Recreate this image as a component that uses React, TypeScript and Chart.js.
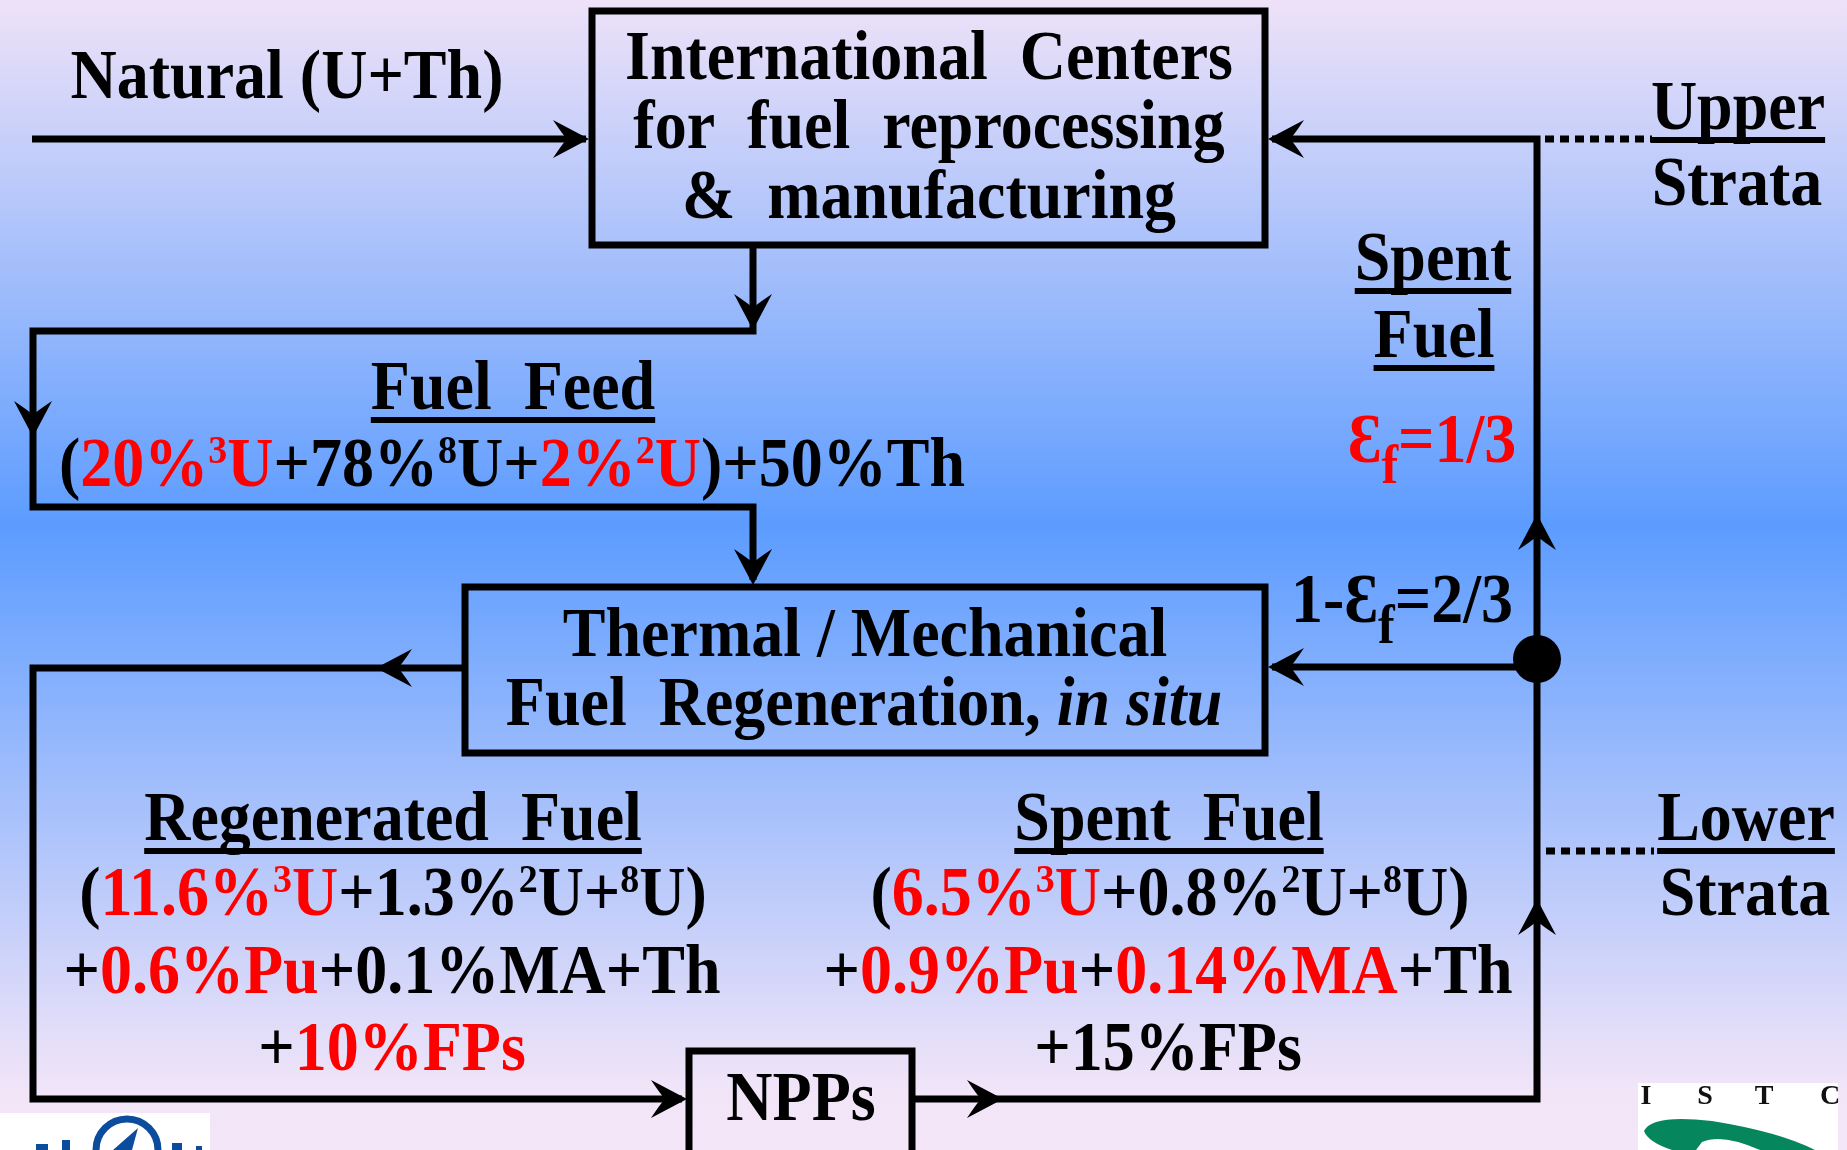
import React, { useEffect, useRef } from "react";
import { Chart, registerables } from "chart.js";

Chart.register(...registerables);

const W = 1847;
const H = 1150;

// ---------- diagram data (in diagram units: x 0..1847, y 0..1150 top-down) ----------
const boxes = [
  { id: "centers", x0: 592, y0: 11, x1: 1265, y1: 245 },
  { id: "regeneration", x0: 465, y0: 587, x1: 1265, y1: 753 },
  { id: "npps", x0: 689, y0: 1051, x1: 912, y1: 1175 },
];

const flowPaths = [
  [[32, 139], [586, 139]],
  [[753, 245], [753, 331], [33, 331], [33, 507], [753, 507], [753, 580]],
  [[465, 668], [33, 668], [33, 1099], [682, 1099]],
  [[912, 1099], [1537, 1099], [1537, 139], [1272, 139]],
  [[1537, 667], [1272, 667]],
];

const arrowHeads: [number, number, string][] = [
  [589, 139, "r"],
  [753, 330, "d"],
  [33, 437, "d"],
  [753, 585, "d"],
  [376, 668, "l"],
  [687, 1099, "r"],
  [1003, 1099, "r"],
  [1537, 899, "u"],
  [1537, 514, "u"],
  [1268, 667, "l"],
  [1268, 139, "l"],
];

const junctionDots = [[1537, 659]];

const strataLeaders = [
  [[1545, 139], [1652, 139]],
  [[1546, 851], [1654, 851]],
];

// text segments: [text, colour k|r, kind n|sup|sub|i]
type Seg = [string, string?, string?];
type Label = { x: number; y: number; u?: boolean; segs: Seg[] };

const naturalLabels: Label[] = [{ x: 287, y: 98, segs: [["Natural (U+Th)"]] }];

const centerTitle: Label[] = [
  { x: 929, y: 79, segs: [["International  Centers"]] },
  { x: 929, y: 148, segs: [["for  fuel  reprocessing"]] },
  { x: 929, y: 218, segs: [["&  manufacturing"]] },
];

const regenTitle: Label[] = [
  { x: 865, y: 656, segs: [["Thermal / Mechanical"]] },
  { x: 864, y: 725, segs: [["Fuel  Regeneration, "], ["in situ", "k", "i"]] },
];

const nppTitle: Label[] = [{ x: 801, y: 1120, segs: [["NPPs"]] }];

const feedLabels: Label[] = [
  { x: 513, y: 409, u: true, segs: [["Fuel  Feed"]] },
  {
    x: 512, y: 486,
    segs: [["("], ["20%", "r"], ["3", "r", "sup"], ["U", "r"], ["+78%"], ["8", "k", "sup"], ["U+"],
      ["2%", "r"], ["2", "r", "sup"], ["U", "r"], [")+50%Th"]],
  },
];

const upperSpentLabels: Label[] = [
  { x: 1433, y: 280, u: true, segs: [["Spent"]] },
  { x: 1434, y: 357, u: true, segs: [["Fuel"]] },
  { x: 1432, y: 462, segs: [["Ɛ", "r"], ["f", "r", "sub"], ["=1/3", "r"]] },
  { x: 1402, y: 622, segs: [["1-Ɛ"], ["f", "k", "sub"], ["=2/3"]] },
];

const strataLabels: Label[] = [
  { x: 1738, y: 129, u: true, segs: [["Upper"]] },
  { x: 1737, y: 205, segs: [["Strata"]] },
  { x: 1746, y: 840, u: true, segs: [["Lower"]] },
  { x: 1745, y: 915, segs: [["Strata"]] },
];

const regeneratedFuel: Label[] = [
  { x: 393, y: 840, u: true, segs: [["Regenerated  Fuel"]] },
  {
    x: 393, y: 915,
    segs: [["("], ["11.6%", "r"], ["3", "r", "sup"], ["U", "r"], ["+1.3%"], ["2", "k", "sup"], ["U+"],
      ["8", "k", "sup"], ["U)"]],
  },
  { x: 392, y: 993, segs: [["+"], ["0.6%Pu", "r"], ["+0.1%MA+Th"]] },
  { x: 392, y: 1070, segs: [["+"], ["10%FPs", "r"]] },
];

const spentFuel: Label[] = [
  { x: 1169, y: 840, u: true, segs: [["Spent  Fuel"]] },
  {
    x: 1170, y: 915,
    segs: [["("], ["6.5%", "r"], ["3", "r", "sup"], ["U", "r"], ["+0.8%"], ["2", "k", "sup"], ["U+"],
      ["8", "k", "sup"], ["U)"]],
  },
  { x: 1168, y: 993, segs: [["+"], ["0.9%Pu", "r"], ["+"], ["0.14%MA", "r"], ["+Th"]] },
  { x: 1168, y: 1070, segs: [["+15%FPs"]] },
];

const allLabels = [
  ...naturalLabels, ...centerTitle, ...regenTitle, ...nppTitle, ...feedLabels,
  ...upperSpentLabels, ...strataLabels, ...regeneratedFuel, ...spentFuel,
];

const istcLetters = ["I", "S", "T", "C"];

// ---------- styles ----------
const FAMILY = '"Liberation Serif","Times New Roman",Times,serif';
const LINE_W = 7;
const RED = "#ff0000";
const TEXT_STRETCH_Y = 1.08;

function fontFor(kind?: string) {
  if (kind === "sup") return `bold 38px ${FAMILY}`;
  if (kind === "sub") return `bold 50px ${FAMILY}`;
  if (kind === "i") return `italic bold 64px ${FAMILY}`;
  return `bold 64px ${FAMILY}`;
}
function shiftFor(kind?: string) {
  if (kind === "sup") return -21;
  if (kind === "sub") return 19;
  return 0;
}

const diagramPlugin = {
  id: "diagram",
  beforeDraw(chart: any) {
    const { ctx, width, height } = chart;
    const g = ctx.createLinearGradient(0, 0, 0, height);
    g.addColorStop(0, "#eee2f8");
    g.addColorStop(0.457, "#5c9cff");
    g.addColorStop(0.95, "#f2e5f8");
    g.addColorStop(1, "#f4e6f8");
    ctx.save();
    ctx.fillStyle = g;
    ctx.fillRect(0, 0, width, height);
    ctx.restore();
  },
  afterDatasetsDraw(chart: any) {
    const { ctx } = chart;
    const sx = (v: number) => chart.scales.x.getPixelForValue(v);
    const sy = (v: number) => chart.scales.y.getPixelForValue(v);
    ctx.save();

    // boxes
    ctx.strokeStyle = "#000";
    ctx.lineWidth = LINE_W;
    ctx.lineJoin = "miter";
    for (const b of boxes) {
      ctx.strokeRect(sx(b.x0), sy(b.y0), sx(b.x1) - sx(b.x0), sy(b.y1) - sy(b.y0));
    }

    // arrowheads
    ctx.fillStyle = "#000";
    const L = 36, HW = 19, N = 22;
    for (const [x, y, d] of arrowHeads) {
      const dx = d === "r" ? 1 : d === "l" ? -1 : 0;
      const dy = d === "d" ? 1 : d === "u" ? -1 : 0;
      const px = -dy, py = dx;
      const tx = sx(x), ty = sy(y);
      ctx.beginPath();
      ctx.moveTo(tx, ty);
      ctx.lineTo(tx - L * dx + HW * px, ty - L * dy + HW * py);
      ctx.quadraticCurveTo(tx - (N + 4) * dx + 4 * px, ty - (N + 4) * dy + 4 * py, tx - N * dx, ty - N * dy);
      ctx.quadraticCurveTo(tx - (N + 4) * dx - 4 * px, ty - (N + 4) * dy - 4 * py, tx - L * dx - HW * px, ty - L * dy - HW * py);
      ctx.closePath();
      ctx.fill();
    }

    // texts
    ctx.textBaseline = "alphabetic";
    ctx.textAlign = "left";
    for (const lab of allLabels) {
      let total = 0;
      const widths: number[] = [];
      for (const s of lab.segs) {
        ctx.font = fontFor(s[2]);
        const w = ctx.measureText(s[0]).width;
        widths.push(w);
        total += w;
      }
      const cx = sx(lab.x), by = sy(lab.y);
      let x = cx - total / 2;
      ctx.save();
      ctx.translate(0, by);
      ctx.scale(1, TEXT_STRETCH_Y);
      lab.segs.forEach((s, i) => {
        ctx.font = fontFor(s[2]);
        ctx.fillStyle = s[1] === "r" ? RED : "#000";
        ctx.fillText(s[0], x, shiftFor(s[2]));
        x += widths[i];
      });
      ctx.restore();
      if (lab.u) {
        ctx.fillStyle = "#000";
        ctx.fillRect(cx - total / 2, by + 8, total, 6);
      }
    }

    // logos (bottom corners)
    ctx.fillStyle = "#ffffff";
    ctx.fillRect(sx(0), sy(1113), sx(210) - sx(0), sy(1150) - sy(1113));
    ctx.strokeStyle = "#0b4c9c";
    ctx.lineWidth = 7;
    ctx.beginPath();
    ctx.arc(sx(127), sy(1150), 31, Math.PI, 2 * Math.PI);
    ctx.stroke();
    ctx.fillStyle = "#0b4c9c";
    ctx.beginPath();
    ctx.moveTo(sx(138), sy(1128));
    ctx.lineTo(sx(113), sy(1150));
    ctx.lineTo(sx(132), sy(1150));
    ctx.closePath();
    ctx.fill();
    ctx.fillRect(sx(36), sy(1144), 12, 6);
    ctx.fillRect(sx(62), sy(1140), 8, 10);
    ctx.fillRect(sx(172), sy(1143), 10, 7);
    ctx.fillRect(sx(196), sy(1146), 6, 4);

    ctx.fillStyle = "#ffffff";
    ctx.fillRect(sx(1638), sy(1083), sx(1838) - sx(1638), sy(1150) - sy(1083));
    ctx.fillStyle = "#111";
    ctx.font = `bold 28px ${FAMILY}`;
    ctx.textAlign = "center";
    const lx = [1646, 1705, 1764, 1830];
    istcLetters.forEach((t, i) => ctx.fillText(t, sx(lx[i]), sy(1104)));
    ctx.fillStyle = "#05865c";
    ctx.beginPath();
    ctx.moveTo(sx(1644), sy(1131));
    ctx.quadraticCurveTo(sx(1652), sy(1114), sx(1712), sy(1121));
    ctx.quadraticCurveTo(sx(1780), sy(1132), sx(1815), sy(1150));
    ctx.lineTo(sx(1760), sy(1150));
    ctx.quadraticCurveTo(sx(1722), sy(1133), sx(1702), sy(1142));
    ctx.lineTo(sx(1696), sy(1150));
    ctx.lineTo(sx(1672), sy(1150));
    ctx.quadraticCurveTo(sx(1648), sy(1142), sx(1644), sy(1131));
    ctx.closePath();
    ctx.fill();

    ctx.restore();
  },
};

export default function App() {
  const ref = useRef<HTMLCanvasElement>(null);
  useEffect(() => {
    document.body.style.margin = "0";
    document.body.style.overflow = "hidden";
    const toPts = (p: number[][]) => p.map(([x, y]) => ({ x, y }));
    const datasets: any[] = [
      ...flowPaths.map((p) => ({
        data: toPts(p),
        showLine: true,
        borderColor: "#000",
        borderWidth: LINE_W,
        borderJoinStyle: "miter",
        borderCapStyle: "butt",
        pointRadius: 0,
        pointHoverRadius: 0,
        tension: 0,
        clip: false,
      })),
      ...strataLeaders.map((p) => ({
        data: toPts(p),
        showLine: true,
        borderColor: "#000",
        borderWidth: LINE_W,
        borderDash: [9, 6],
        borderCapStyle: "butt",
        pointRadius: 0,
        pointHoverRadius: 0,
        clip: false,
      })),
      {
        data: toPts(junctionDots),
        showLine: false,
        pointRadius: 24,
        pointHoverRadius: 24,
        pointBackgroundColor: "#000",
        pointBorderWidth: 0,
        clip: false,
      },
    ];
    const chart = new Chart(ref.current!, {
      type: "scatter",
      data: { datasets },
      options: {
        animation: false,
        responsive: false,
        devicePixelRatio: 1,
        events: [],
        layout: { padding: 0, autoPadding: false },
        plugins: { legend: { display: false }, tooltip: { enabled: false } },
        scales: {
          x: { type: "linear", min: 0, max: W, display: false },
          y: { type: "linear", min: 0, max: H, reverse: true, display: false },
        },
      },
      plugins: [diagramPlugin],
    });
    return () => chart.destroy();
  }, []);
  return (
    <div style={{ width: W, height: H }}>
      <canvas ref={ref} width={W} height={H} style={{ display: "block", width: W, height: H }} />
    </div>
  );
}
